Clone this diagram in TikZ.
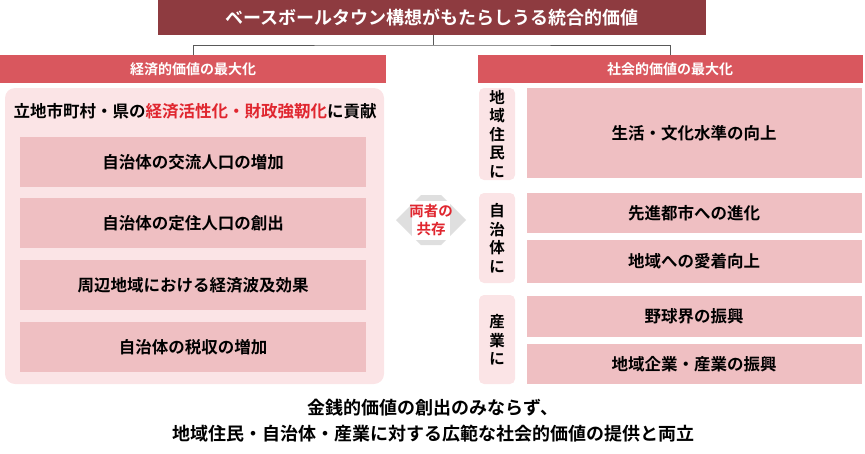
\documentclass[tikz,border=0pt]{standalone}
\usepackage{fontspec}
\setmainfont{Noto Sans CJK JP}[BoldFont={Noto Sans CJK JP Bold}]
\usetikzlibrary{shapes.arrows}
\definecolor{dred}{HTML}{8E3B40}
\definecolor{hred}{HTML}{D9575E}
\definecolor{lpink}{HTML}{FBE4E6}
\definecolor{mpink}{HTML}{EFBFC2}
\definecolor{tred}{HTML}{E0262F}
\begin{document}
\begin{tikzpicture}[x=1pt,y=-1pt,
  bx/.style={font=\bfseries\fontsize{16.5}{18}\selectfont},
  hd/.style={text=white,font=\bfseries\fontsize{14}{16}\selectfont},
  lab/.style={font=\bfseries\fontsize{15.5}{18.5}\selectfont,align=center},
  every node/.style={inner sep=0pt}]
\useasboundingbox (0,0) rectangle (865,453);
\fill[dred] (158,0) rectangle (706,35);
\node[text=white,font=\bfseries\fontsize{18}{20}\selectfont] (title) at (432,18) {ベースボールタウン構想がもたらしうる統合的価値};
\coordinate (tb) at (433,35);
\coordinate (mid) at (433,45);
\fill[hred] (0,55) rectangle (386,83);
\node[hd] (lh) at (193,69) {経済的価値の最大化};
\fill[hred] (478,55) rectangle (863,83);
\node[hd] (rh) at (670,69) {社会的価値の最大化};
\draw[gray!70!black,line width=0.8pt] (tb) -- (mid) (193,55) |- (mid) -| (670,55);
\fill[lpink,rounded corners=10pt] (5,88) rectangle (384,384);
\node[font=\bfseries\fontsize{16.5}{18}\selectfont] (lt) at (195,111) {立地市町村・県の\textcolor{tred}{経済活性化・財政強靭化}に貢献};
\foreach \y/\t [count=\i] in {137/自治体の交流人口の増加,198/自治体の定住人口の創出,260/周辺地域における経済波及効果,322/自治体の税収の増加}{
  \fill[mpink] (20,\y) rectangle (366,\y+50);
  \node[bx] (l\i) at (193,\y+25) {\t};}
\node[double arrow,fill=gray!25,minimum width=50pt,double arrow head extend=0pt,minimum height=70pt,inner sep=0pt] (arr) at (431,220) {};
\fill[white] (412,201) rectangle (450,240);
\node[text=tred,font=\bfseries\fontsize{14.5}{18.5}\selectfont,align=center] (coex) at (431,220) {両者の\\共存};
\fill[lpink,rounded corners=5pt] (479,88) rectangle (515,180);
\node[lab] (g1) at (497,134) {地\\域\\住\\民\\に};
\fill[lpink,rounded corners=5pt] (479,193) rectangle (515,283);
\node[lab] (g2) at (497,238) {自\\治\\体\\に};
\fill[lpink,rounded corners=5pt] (479,295) rectangle (515,384);
\node[lab] (g3) at (497,340) {産\\業\\に};
\foreach \a/\b/\t [count=\i] in {88/178/生活・文化水準の向上,193/233/先進都市への進化,240/283/地域への愛着向上,296/337/野球界の振興,344/384/地域企業・産業の振興}{
  \fill[mpink] (527,\a) rectangle (862,\b);
  \node[bx] (r\i) at (694,{(\a+\b)/2}) {\t};}
\node[font=\bfseries\fontsize{18}{20}\selectfont] (b1) at (433,408) {金銭的価値の創出のみならず、};
\node[font=\bfseries\fontsize{18}{20}\selectfont] (b2) at (433,434) {地域住民・自治体・産業に対する広範な社会的価値の提供と両立};
\end{tikzpicture}
\end{document}
